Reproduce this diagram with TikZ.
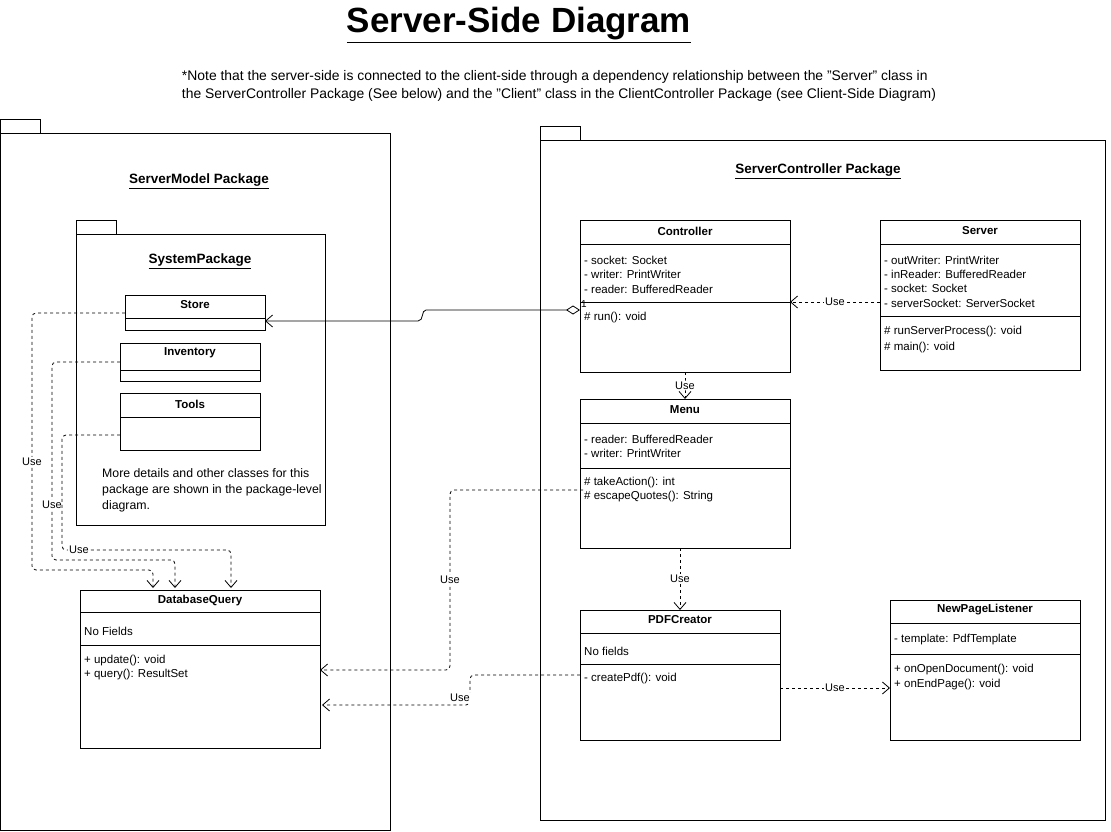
\documentclass[tikz,border=0pt]{standalone}
\usepackage{fontspec}
\setmainfont{Liberation Sans}
\usetikzlibrary{arrows.meta}
\newcommand{\qq}{\char"22\relax}
\begin{document}
\begin{tikzpicture}[x=1pt,y=-1pt,
  box/.style={draw,line width=1pt},
  txt/.style={font=\fontsize{11.5}{14}\selectfont,inner sep=0pt,anchor=west},
  ttl/.style={font=\bfseries\fontsize{11.5}{14}\selectfont,inner sep=0pt},
  pkg/.style={font=\bfseries\fontsize{13.5}{16}\selectfont,inner sep=0pt},
  dep/.style={draw,dashed,line width=0.8pt,rounded corners=4,-{Straight Barb[length=7pt,width=12pt]}},
  lab/.style={font=\fontsize{11}{13}\selectfont,fill=white,inner sep=1pt}]
\useasboundingbox (0,0) rectangle (1111,832);
\node[font=\bfseries\fontsize{35}{40}\selectfont] (title) at (519,25) {\underline{Server-Side Diagram}};
\node[font=\fontsize{13.9}{18}\selectfont,align=left] (note) at (559,86) {*Note that the server-side is connected to the client-side through a dependency relationship between the \qq Server\qq\ class in\\the ServerController Package (See below) and the \qq Client\qq\ class in the ClientController Package (see Client-Side Diagram)};
% packages
\draw[line width=1pt] (0,120) rectangle (40,134) (0,134) rectangle (390,830);
\node[pkg] (smp) at (199,181) {\underline{ServerModel Package}};
\draw[line width=1pt] (76,220) rectangle (116,234) (76,234) rectangle (325,525);
\node[pkg] (sp) at (200,261) {\underline{SystemPackage}};
\draw[line width=1pt] (540,127) rectangle (580,141) (540,141) rectangle (1105,820);
\node[pkg] (scp) at (818,171) {\underline{ServerController Package}};
% Store etc
\draw[box] (125,295) rectangle (265,330); \draw (125,318)--(265,318);
\node[ttl] (store) at (195,305) {Store};
\draw[box] (120,343) rectangle (260,381); \draw (120,370)--(260,370);
\node[ttl] (inv) at (190,353) {Inventory};
\draw[box] (120,393) rectangle (260,450); \draw (120,417)--(260,417);
\node[ttl] (tools) at (190,404) {Tools};
\node[txt,align=left,anchor=north west,font=\fontsize{12.3}{16}\selectfont] (more) at (102,468) {More details and other classes for this\\package are shown in the package-level\\diagram.};
% DatabaseQuery
\draw[box] (80,590) rectangle (320,748); \draw (80,612)--(320,612) (80,645)--(320,645);
\node[ttl] (dbq) at (200,601) {DatabaseQuery};
\node[txt] at (84,631) {No Fields};
\node[txt] at (84,661) {+ update(): void};
\node[txt] at (84,675) {+ query(): ResultSet};
% Controller
\draw[box] (580,220) rectangle (790,372); \draw (580,244)--(790,244) (580,302)--(790,302);
\node[ttl] (ctrl) at (685,231) {Controller};
\node[txt] at (584,260) {- socket: Socket};
\node[txt] at (584,274) {- writer: PrintWriter};
\node[txt] at (584,289) {- reader: BufferedReader};
\node[txt] at (584,318) {\# run(): void};
% Server
\draw[box] (880,220) rectangle (1080,370); \draw (880,244)--(1080,244) (880,316)--(1080,316);
\node[ttl] (srv) at (980,231) {Server};
\node[txt] at (884,260) {- outWriter: PrintWriter};
\node[txt] at (884,274) {- inReader: BufferedReader};
\node[txt] at (884,288) {- socket: Socket};
\node[txt] at (884,303) {- serverSocket: ServerSocket};
\node[txt] at (884,332) {\# runServerProcess(): void};
\node[txt] at (884,348) {\# main(): void};
% Menu
\draw[box] (580,399) rectangle (790,548); \draw (580,423)--(790,423) (580,468)--(790,468);
\node[ttl] (menu) at (685,410) {Menu};
\node[txt] at (584,439) {- reader: BufferedReader};
\node[txt] at (584,453) {- writer: PrintWriter};
\node[txt] at (584,483) {\# takeAction(): int};
\node[txt] at (584,497) {\# escapeQuotes(): String};
% PDFCreator
\draw[box] (580,610) rectangle (780,740); \draw (580,633)--(780,633) (580,664)--(780,664);
\node[ttl] (pdf) at (680,620) {PDFCreator};
\node[txt] at (584,651) {No fields};
\node[txt] at (584,679) {- createPdf(): void};
% NewPageListener
\draw[box] (890,600) rectangle (1080,740); \draw (890,623)--(1080,623) (890,654)--(1080,654);
\node[ttl] (npl) at (985,610) {NewPageListener};
\node[txt] at (894,640) {- template: PdfTemplate};
\node[txt] at (894,670) {+ onOpenDocument(): void};
\node[txt] at (894,685) {+ onEndPage(): void};
% aggregation
\coordinate (ca) at (580,310); \coordinate (sa) at (265,321);
\draw[line width=0.8pt,{Diamond[open,length=14pt,width=9pt]}-{Straight Barb[length=7pt,width=12pt]}] (ca) -- (426,310) .. controls (421,310) and (424,321) .. (418,321) -- (sa);
\node[font=\fontsize{10}{11}\selectfont,inner sep=0pt] at (584,304) {1};
% deps
\coordinate (s1) at (880,302); \coordinate (c1) at (790,302);
\draw[dep] (s1) -- node[lab]{Use} (c1);
\draw[dep] (685,372) -- node[lab]{Use} (685,399);
\draw[dep] (680,548) -- node[lab,pos=0.5]{Use} (680,610);
\draw[dep] (583,490) -- (450,490) -- node[lab,pos=0.5]{Use} (450,670) -- (320,670);
\draw[dep] (580,675) -- (470,675) -- (470,705) -- (322,705);
\node[lab] at (460,698) {Use};
\draw[dep] (780,688) -- node[lab]{Use} (890,688);
\draw[dep] (125,313) -- (32,313) -- node[lab,pos=0.58]{Use} (32,570) -- (153,570) -- (153,588);
\draw[dep] (120,362) -- (52,362) -- node[lab,pos=0.72]{Use} (52,560) -- (175,560) -- (175,588);
\draw[dep] (120,435) -- (62,435) -- (62,550) -- node[lab,pos=0.1]{Use} (231,550) -- (231,588);
\end{tikzpicture}
\end{document}
